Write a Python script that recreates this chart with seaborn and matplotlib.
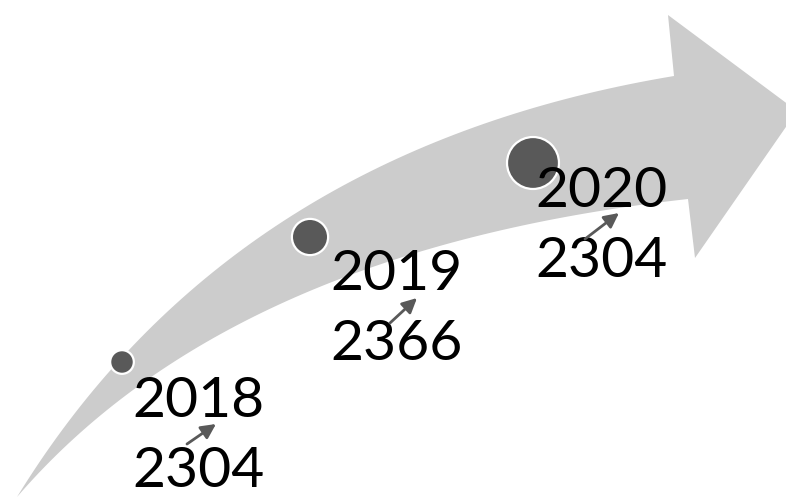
import numpy as np
import matplotlib
matplotlib.use("Agg")
import matplotlib.pyplot as plt
import seaborn as sns
import pandas as pd
from matplotlib.patches import Polygon

# ---- data ----
years = ["2018", "2019", "2020"]
values = [2304, 2366, 2304]

# ---- layout (pixel coordinates, y downward) ----
circle_x = [122, 310, 533]
circle_y = [362, 237, 163]
circle_sizes = [290, 680, 1400]
label_x = [132, 330, 535]
label_base_y = [417, 290, 207]
line_gap = 70
arrow_start = [(187, 444), (390, 323), (585, 239)]
arrow_end = [(216, 424), (417, 298), (619, 213)]

sns.set_theme(style="white")
plt.rcParams['font.family'] = ['Lato', 'DejaVu Sans']

fig = plt.figure(figsize=(7.86, 4.97), dpi=100)
ax = fig.add_axes([0, 0, 1, 1])
ax.set_xlim(0, 786)
ax.set_ylim(497, 0)
ax.axis("off")


def bez(p0, p1, p2, n=80):
    t = np.linspace(0, 1, n)[:, None]
    p0, p1, p2 = map(np.array, (p0, p1, p2))
    return (1 - t) ** 2 * p0 + 2 * (1 - t) * t * p1 + t ** 2 * p2

upper = bez((17, 497), (230, 150), (674, 76))
lower = bez((17, 497), (230, 250), (688, 199))
head = np.array([(668, 15), (797, 111), (695, 258)])
poly = np.vstack([upper, head, lower[::-1]])
ax.add_patch(Polygon(poly, closed=True, facecolor="#cccccc", edgecolor="none", zorder=1))

df = pd.DataFrame({"x": circle_x, "y": circle_y, "year": years, "s": circle_sizes})
sns.scatterplot(data=df, x="x", y="y", size="year", sizes=dict(zip(years, circle_sizes)),
                color="#595959", edgecolor="white", linewidth=1.6, legend=False, ax=ax, zorder=3)
ax.set_xlim(0, 786)
ax.set_ylim(497, 0)
ax.axis("off")

for i, (yr, v) in enumerate(zip(years, values)):
    ax.text(label_x[i], label_base_y[i], yr, fontsize=41, color="black",
            va="baseline", ha="left", zorder=4)
    ax.text(label_x[i], label_base_y[i] + line_gap, str(v), fontsize=41, color="black",
            va="baseline", ha="left", zorder=4)
    ax.annotate("", xy=arrow_end[i], xytext=arrow_start[i],
                arrowprops=dict(arrowstyle="-|>", color="#595959", lw=2,
                                mutation_scale=22, shrinkA=0, shrinkB=0), zorder=5)

fig.savefig("out.png", dpi=100)
